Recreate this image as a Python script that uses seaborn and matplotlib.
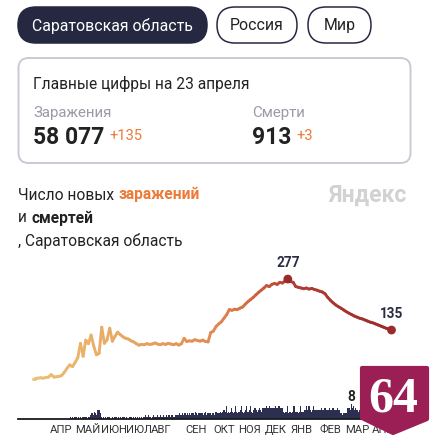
import numpy as np
import pandas as pd
import matplotlib
matplotlib.use("Agg")
import matplotlib.pyplot as plt
import seaborn as sns
from matplotlib.patches import FancyBboxPatch, Polygon
from matplotlib.colors import LinearSegmentedColormap

# ------------------------------------------------------------------ data
region_buttons = ["Саратовская область", "Россия", "Мир"]
card_title = "Главные цифры на 23 апреля"
cases_label = "Заражения"
deaths_label = "Смерти"
total_cases = "58 077"
new_cases = "+135"
total_deaths = "913"
new_deaths = "+3"

origin = pd.Timestamp("2020-04-15")

# new cases, sampled every 3 days from 2020-03-14 to 2021-04-23
case_start = "2020-03-14"
cases = [0, 0, 1, 2, 1, 3, 4, 11, 4, 5,
         6, 9, 18, 29, 38, 33, 45, 58, 98, 62,
         107, 97, 121, 90, 66, 70, 143, 98, 108, 140,
         104, 118, 129, 122, 116, 112, 110, 105, 102, 97,
         93, 95, 94, 97, 95, 96, 99, 96, 94, 97,
         95, 98, 96, 94, 97, 93, 97, 112, 103, 105,
         104, 108, 106, 104, 107, 103, 102, 128, 132, 145,
         152, 158, 168, 178, 192, 190, 193, 192, 196, 199,
         207, 214, 220, 226, 233, 240, 246, 252, 259, 256,
         262, 265, 262, 268, 266, 272, 277, 270, 268, 256,
         254, 252, 250, 252, 249, 251, 248, 246, 243, 241,
         236, 226, 218, 211, 205, 200, 196, 191, 186, 182,
         178, 174, 171, 168, 166, 163, 160, 157, 155, 152,
         149, 146, 143, 140, 138, 135]

# daily deaths from 2020-04-26 to 2021-04-23
death_start = "2020-04-26"
deaths_2020_04 = [1, 0, 1, 0, 1]
deaths_2020_05 = [0, 1, 0, 0, 1, 0, 1, 0, 1, 0, 1, 0, 1, 1, 0, 1, 1,
                  2, 3, 2, 3, 2, 4, 3, 2, 5, 3, 5, 2, 3, 1]
deaths_2020_06 = [0, 1, 0, 1, 0, 0, 1, 0, 1, 0, 0, 1, 0, 1, 0, 1, 0, 0, 1, 0,
                  1, 0, 0, 1, 0, 1, 0, 1, 0, 0]
deaths_2020_07 = [1, 0, 1, 0, 0, 1, 0, 1, 0, 1, 0, 0, 1, 0, 1, 0,
                  1, 1, 2, 1, 0, 1, 2, 1, 1, 0, 1, 2, 1, 1, 1]
deaths_2020_08 = [1, 2, 1, 1, 2, 1, 0, 1, 2, 1, 1, 2, 1, 1, 2, 1, 1, 2, 2, 1,
                  1, 2, 1, 2, 1, 2, 3, 2, 2, 3, 2]
deaths_2020_09 = [2, 3, 2, 2, 3, 2, 3, 2, 3, 3, 2, 3, 2, 4, 3, 2, 3, 2, 3, 3,
                  2, 3, 2, 3, 4, 2, 3, 3, 2, 3]
deaths_2020_10 = [3, 2, 3, 3, 2, 3, 4, 3, 2, 3, 3, 4,
                  3, 4, 3, 5, 3, 4, 7, 3, 4, 3, 4, 6, 3, 4, 3, 4, 7, 4, 3]
deaths_2020_11 = [4, 3, 4, 5, 7, 4, 3, 4, 5, 7, 4, 3, 4, 5, 7, 4, 3, 5, 4, 6,
                  4, 5, 4, 5, 6, 5, 4, 6, 6, 6]
deaths_2020_12 = [6, 6, 7, 6, 6, 7, 6, 6, 5, 6, 6, 6, 7, 6, 6, 6, 7, 6, 6, 6, 6,
                  4, 3, 4, 3, 4, 7, 3, 4, 4, 3]
deaths_2021_01 = [4, 3, 7, 4, 3, 4, 4, 3, 4, 7, 4, 3, 4, 4,
                  5, 5, 7, 5, 5, 7, 5, 5, 4, 5, 7, 5, 5, 5, 5, 5, 5]
deaths_2021_02 = [5, 5, 6, 5, 5, 5, 6, 5, 5, 5, 5, 6, 5, 5, 5, 6, 5, 5, 5, 5,
                  6, 5, 5, 3, 3, 3, 2, 3]
deaths_2021_03 = [3, 3, 3, 6, 5, 6, 5, 5, 8, 6, 7, 5, 6, 5, 4, 5, 4, 5, 4, 5,
                  4, 4, 5, 4, 3, 4, 4, 5, 4, 3, 4]
deaths_2021_04 = [4, 3, 4, 3, 4, 3, 3, 4, 3, 3, 4, 3, 2, 3, 3, 4, 3, 3, 3, 2,
                  3, 3, 3]

month_labels = ["АПР", "МАЙ", "ИЮН", "ИЮЛ", "АВГ", "СЕН", "ОКТ", "НОЯ",
                "ДЕК", "ЯНВ", "ФЕВ", "МАР", "АПР"]
month_label_dates = ["2020-04-15", "2020-05-15", "2020-06-14", "2020-07-12",
                     "2020-08-06", "2020-09-15", "2020-10-16", "2020-11-14",
                     "2020-12-13", "2021-01-12", "2021-02-13", "2021-03-15",
                     "2021-04-14"]

# ------------------------------------------------------------------ frames
case_dates = pd.date_range(case_start, periods=len(cases), freq="3D")
case_day = (case_dates - origin).days.astype(float)
deaths = (deaths_2020_04 + deaths_2020_05 + deaths_2020_06 + deaths_2020_07 +
          deaths_2020_08 + deaths_2020_09 + deaths_2020_10 + deaths_2020_11 +
          deaths_2020_12 + deaths_2021_01 + deaths_2021_02 + deaths_2021_03 +
          deaths_2021_04)
death_dates = pd.date_range(death_start, periods=len(deaths), freq="D")
death_df = pd.DataFrame({"day": (death_dates - origin).days.astype(float),
                         "deaths": deaths})
tick_days = [(pd.Timestamp(d) - origin).days for d in month_label_dates]

# segments for gradient line
rows = []
for i in range(len(cases) - 1):
    rows.append((case_day[i], cases[i], i))
    rows.append((case_day[i + 1], cases[i + 1], i))
seg_df = pd.DataFrame(rows, columns=["day", "cases", "seg"])

# ------------------------------------------------------------------ style
sns.set_theme(style="white")
plt.rcParams["font.family"] = ["Roboto", "DejaVu Sans"]

W, H = 431, 440
fig = plt.figure(figsize=(W / 100, H / 100), dpi=100)
fig.patch.set_facecolor("white")

def ax_rect(left, top, right, bottom):
    return [left / W, 1 - bottom / H, (right - left) / W, (bottom - top) / H]

NAVY = "#262842"
ORANGE = "#ec7a39"
DARK = "#222222"

# background UI layer
bg = fig.add_axes([0, 0, 1, 1], zorder=0)
bg.set_xlim(0, W)
bg.set_ylim(H, 0)
bg.axis("off")

# pills
pills = [(18, 207, True), (217, 297, False), (308, 371, False)]
for (x0, x1, filled), label in zip(pills, region_buttons):
    p = FancyBboxPatch((x0, 7), x1 - x0, 36,
                       boxstyle="round,pad=0,rounding_size=18",
                       facecolor=NAVY if filled else "white",
                       edgecolor=NAVY, linewidth=1.1)
    bg.add_patch(p)
    bg.text((x0 + x1) / 2, 25.5, label, ha="center", va="center",
            fontsize=11.4, color="white" if filled else DARK)

# card
card = FancyBboxPatch((18.5, 58), 392, 105,
                      boxstyle="round,pad=0,rounding_size=10",
                      facecolor="white", edgecolor="#c9cbd4", linewidth=1.4)
bg.add_patch(card)
bg.text(33, 84, card_title, ha="left", va="center", fontsize=11.2, color=DARK)
bg.text(33, 113, cases_label, ha="left", va="center", fontsize=10.8, color="#9a9ba6")
bg.text(252, 113, deaths_label, ha="left", va="center", fontsize=10.8, color="#9a9ba6")
tn = bg.text(33, 138, total_cases, ha="left", va="center", fontsize=16.5,
             fontweight="bold", color=DARK)
bg.annotate(new_cases, xy=(1, 1), xycoords=tn, xytext=(3.5, -2),
            textcoords="offset points", ha="left", va="top", fontsize=10.5,
            color=ORANGE)
td = bg.text(252, 138, total_deaths, ha="left", va="center", fontsize=16.5,
             fontweight="bold", color=DARK)
bg.annotate(new_deaths, xy=(1, 1), xycoords=td, xytext=(3.5, -2),
            textcoords="offset points", ha="left", va="top", fontsize=10.5,
            color=ORANGE)

# chart title
t1 = bg.text(18, 195, "Число новых", ha="left", va="center", fontsize=11.2, color=DARK)
bg.annotate("заражений", xy=(1, 0), xycoords=t1, xytext=(3.2, 0),
            textcoords="offset points", ha="left", va="bottom", fontsize=11.2,
            fontweight="bold", color=ORANGE)
t2 = bg.text(18, 218, "и", ha="left", va="center", fontsize=11.2, color=DARK)
bg.annotate("смертей", xy=(1, 0), xycoords=t2, xytext=(3.2, 0),
            textcoords="offset points", ha="left", va="bottom", fontsize=11.2,
            fontweight="bold", color=DARK)
bg.text(18, 241, ", " + region_buttons[0], ha="left", va="center",
        fontsize=11.2, color=DARK)
bg.text(407, 195, "Яндекс", ha="right", va="center", fontsize=16.5,
        fontweight="bold", color="#d2d2d2")

# ------------------------------------------------------------------ line chart
XL, XR = -48.5, 382.6
ax_l = fig.add_axes(ax_rect(18, 255, 400, 382.1), zorder=2)
ax_l.patch.set_alpha(0)
cmap = LinearSegmentedColormap.from_list(
    "grad", [(0.0, "#ecc077"), (0.3, "#e6a35e"), (0.5, "#e08c54"),
             (0.6, "#d66c42"), (0.72, "#b23e33"), (1.0, "#9d2a2c")])
sns.lineplot(data=seg_df, x="day", y="cases", hue="seg", units="seg",
             estimator=None, palette=cmap, hue_norm=(0, len(cases) - 2),
             legend=False, linewidth=2.1, solid_capstyle="round", ax=ax_l,
             sort=False)
imax = int(np.argmax(cases))
pts = pd.DataFrame({"day": [case_day[imax], case_day[-1]],
                    "cases": [cases[imax], cases[-1]]})
sns.scatterplot(data=pts, x="day", y="cases", color="#9b2a2b", s=40,
                edgecolor="none", ax=ax_l, zorder=5)
for d, v in zip(pts["day"], pts["cases"]):
    ax_l.annotate(str(v), xy=(d, v), xytext=(0, 6.5), textcoords="offset points",
                  ha="center", va="bottom", fontsize=9.8, fontweight="bold",
                  color="#2a2c44")
ax_l.set_xlim(XL, XR)
ax_l.set_ylim(-10, 344)
ax_l.axis("off")

# ------------------------------------------------------------------ deaths bars
ax_b = fig.add_axes(ax_rect(18, 385, 400, 419), zorder=1)
ax_b.patch.set_alpha(0)
sns.histplot(data=death_df, x="day", weights="deaths", discrete=True,
             shrink=1.35, color="#2c2f50", alpha=1.0, edgecolor="none",
             linewidth=0, ax=ax_b)
dmax = int(np.argmax(deaths))
ax_b.annotate(str(deaths[dmax]), xy=(death_df["day"][dmax], deaths[dmax]),
              xytext=(0, 0.5), textcoords="offset points", ha="center",
              va="bottom", fontsize=9.8, fontweight="bold", color="#222222",
              annotation_clip=False)
ax_b.set_xlim(XL, XR)
ax_b.set_ylim(0, 18.5)
ax_b.set_xlabel("")
ax_b.set_ylabel("")
ax_b.set_yticks([])
ax_b.set_xticks(tick_days)
ax_b.set_xticklabels(month_labels, fontsize=8.1, color="#333333")
ax_b.tick_params(axis="x", length=0, pad=4.5)
for s in ["top", "left", "right"]:
    ax_b.spines[s].set_visible(False)
ax_b.spines["bottom"].set_color("#1a1a1a")
ax_b.spines["bottom"].set_linewidth(1.3)

# ------------------------------------------------------------------ badge overlay
top = fig.add_axes([0, 0, 1, 1], zorder=5)
top.set_xlim(0, W)
top.set_ylim(H, 0)
top.axis("off")
top.patch.set_alpha(0)
badge = Polygon([(362, 368), (427, 368), (427, 419), (393, 433), (362, 418)],
                closed=True, facecolor="#9b1e54", edgecolor="#9b1e54",
                linewidth=3, joinstyle="round")
top.add_patch(badge)
top.text(393, 400, "64", ha="center", va="center", fontsize=36,
         fontweight="bold", color="white", family=["Liberation Serif", "DejaVu Serif"])

fig.savefig("out.png", dpi=100, facecolor="white")
